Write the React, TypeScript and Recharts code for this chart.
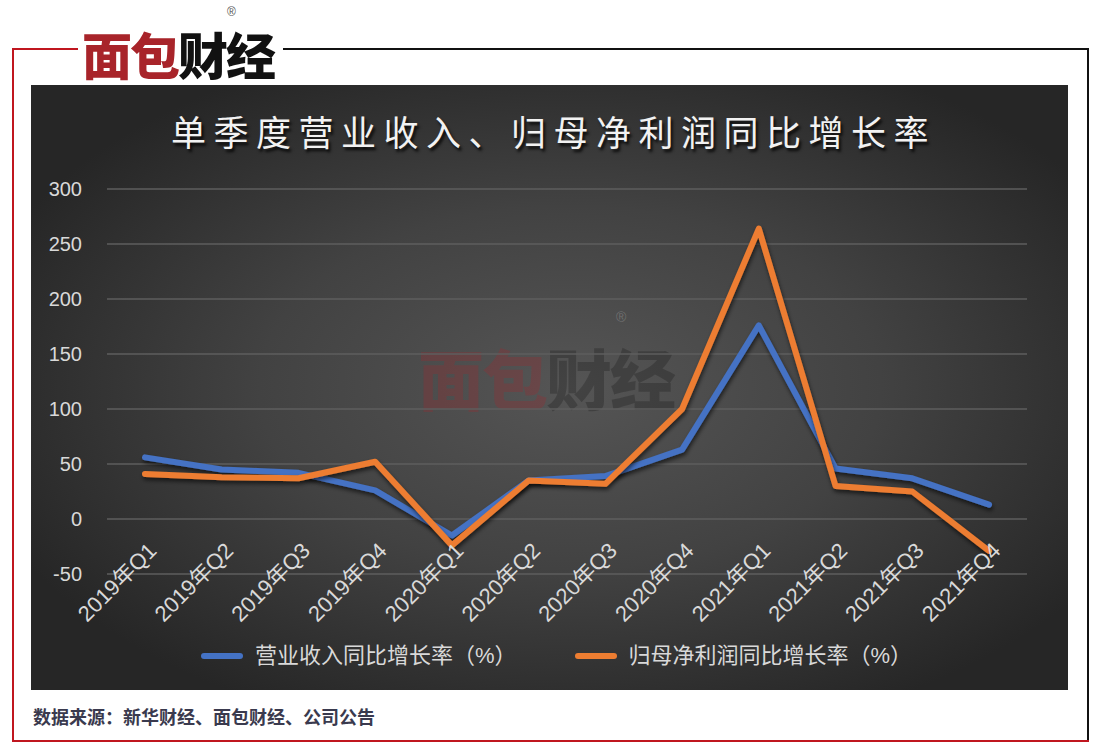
import { LineChart, Line, XAxis, YAxis, CartesianGrid } from "recharts"

const quarters = [
  "2019年Q1", "2019年Q2", "2019年Q3", "2019年Q4",
  "2020年Q1", "2020年Q2", "2020年Q3", "2020年Q4",
  "2021年Q1", "2021年Q2", "2021年Q3", "2021年Q4",
]
const revenueGrowth = [56, 45, 42, 26, -15, 35, 39, 63, 176, 46, 37, 13]
const profitGrowth = [41, 38, 37, 52, -24, 35, 32, 100, 264, 30, 25, -29]
const yTicks = [-50, 0, 50, 100, 150, 200, 250, 300]
const seriesNames = ["营业收入同比增长率（%）", "归母净利润同比增长率（%）"]
const seriesColors = ["#4472C4", "#ED7D31"]

const chartData = quarters.map((q, i) => ({
  name: q,
  revenue: revenueGrowth[i],
  profit: profitGrowth[i],
}))

const FONT = "'Liberation Sans', 'Noto Sans CJK SC', sans-serif"

function QuarterTick(props: any) {
  const { x, y, payload } = props
  return (
    <g transform={`translate(${x + 13},${y - 30})`}>
      <text textAnchor="end" transform="rotate(-45)" fill="#d9d9d9" fontSize={22} fontFamily={FONT}>
        {payload.value}
      </text>
    </g>
  )
}

function Logo({ size, opacity }: { size: number; opacity: number }) {
  return (
    <div style={{ fontFamily: "'Noto Sans CJK SC'", fontWeight: 900, fontSize: size, letterSpacing: -2, opacity, lineHeight: 1, height: size }}>
      <span style={{ color: "#a8242a" }}>面包</span>
      <span style={{ color: "#111" }}>财经</span>
    </div>
  )
}

export default function App() {
  return (
    <div style={{ position: "absolute", left: 0, top: 0, width: 1101, height: 755, background: "#fff", overflow: "hidden" }}>
      {/* frame */}
      <div style={{ position: "absolute", left: 12, top: 48, width: 2, height: 694, background: "#c0161f" }} />
      <div style={{ position: "absolute", left: 12, top: 48, width: 70, height: 2, background: "#c0161f" }} />
      <div style={{ position: "absolute", left: 280, top: 48, width: 809, height: 2, background: "#111" }} />
      <div style={{ position: "absolute", left: 1087, top: 48, width: 2, height: 694, background: "#111" }} />
      <div style={{ position: "absolute", left: 12, top: 740, width: 1077, height: 2, background: "#c0161f" }} />

      {/* logo */}
      <div style={{ position: "absolute", left: 78, top: 0, width: 205, height: 84, background: "#fff" }} />
      <div style={{ position: "absolute", left: 82, top: 28 }}>
        <Logo size={50} opacity={1} />
      </div>
      <div style={{ position: "absolute", left: 227, top: 6, fontSize: 12, lineHeight: 1, color: "#555", fontFamily: FONT }}>®</div>

      {/* dark panel */}
      <div
        style={{
          position: "absolute", left: 31, top: 85, width: 1037, height: 605,
          background: "radial-gradient(ellipse 60% 60% at 52% 50%, #555555 0%, #424242 50%, #262626 100%)",
        }}
      />
      <div style={{ position: "absolute", left: 418, top: 343 }}>
        <Logo size={66} opacity={0.26} />
      </div>
      <div style={{ position: "absolute", left: 616, top: 310, fontSize: 14, lineHeight: 1, color: "rgba(255,255,255,0.2)", fontFamily: FONT }}>®</div>

      <div
        style={{
          position: "absolute", left: 31, top: 110, width: 1037, textAlign: "center",
          fontFamily: "'Noto Sans CJK SC'", fontSize: 35, letterSpacing: 7.5, color: "#f2f2f2",
          textShadow: "2px 3px 3px rgba(0,0,0,0.85)", lineHeight: 1.2, textIndent: 8,
        }}
      >
        单季度营业收入、归母净利润同比增长率
      </div>

      <div style={{ position: "absolute", left: 31, top: 85 }}>
        <LineChart width={1037} height={605} data={chartData} margin={{ top: 104, right: 41, left: 0, bottom: 86 }}>
          <defs>
            <filter id="lineShadow" x="-10%" y="-10%" width="120%" height="130%">
              <feDropShadow dx="1" dy="3" stdDeviation="2" floodColor="#000" floodOpacity="0.6" />
            </filter>
          </defs>
          <CartesianGrid vertical={false} stroke="#5e5e5e" strokeWidth={1.5} />
          <XAxis
            dataKey="name"
            axisLine={false}
            tickLine={false}
            interval={0}
            height={30}
            padding={{ left: 38, right: 38 }}
            tick={<QuarterTick />}
          />
          <YAxis
            domain={[-50, 300]}
            ticks={yTicks}
            width={76}
            axisLine={false}
            tickLine={false}
            tickMargin={19}
            tick={{ fill: "#d9d9d9", fontSize: 20, fontFamily: FONT }}
          />
          <Line
            type="linear"
            dataKey="revenue"
            name={seriesNames[0]}
            stroke={seriesColors[0]}
            strokeWidth={6}
            strokeLinejoin="round"
            strokeLinecap="round"
            dot={false}
            filter="url(#lineShadow)"
            isAnimationActive={false}
          />
          <Line
            type="linear"
            dataKey="profit"
            name={seriesNames[1]}
            stroke={seriesColors[1]}
            strokeWidth={6}
            strokeLinejoin="round"
            strokeLinecap="round"
            dot={false}
            filter="url(#lineShadow)"
            isAnimationActive={false}
          />
        </LineChart>
      </div>

      {/* legend */}
      <div
        style={{
          position: "absolute", left: 38, top: 642, width: 1037, display: "flex", justifyContent: "center",
          gap: 58, fontFamily: FONT, fontSize: 22, color: "#d9d9d9", lineHeight: "28px",
        }}
      >
        {seriesNames.map((n, i) => (
          <div key={n} style={{ display: "flex", alignItems: "center" }}>
            <div style={{ width: 42, height: 6, borderRadius: 3, background: seriesColors[i], marginRight: 12 }} />
            <span>{n}</span>
          </div>
        ))}
      </div>

      {/* source */}
      <div
        style={{
          position: "absolute", left: 33, top: 703, fontFamily: "'Noto Sans CJK SC'", fontWeight: 700,
          fontSize: 18, color: "#3a3a4e",
        }}
      >
        数据来源：新华财经、面包财经、公司公告
      </div>
    </div>
  )
}
